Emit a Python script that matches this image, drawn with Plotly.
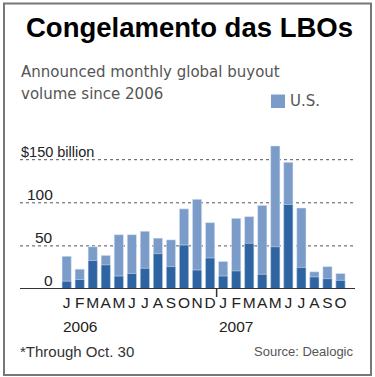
import plotly.graph_objects as go

# ---- data ----
periods = ["Jan 2006", "Feb 2006", "Mar 2006", "Apr 2006", "May 2006", "Jun 2006",
           "Jul 2006", "Aug 2006", "Sep 2006", "Oct 2006", "Nov 2006", "Dec 2006",
           "Jan 2007", "Feb 2007", "Mar 2007", "Apr 2007", "May 2007", "Jun 2007",
           "Jul 2007", "Aug 2007", "Sep 2007", "Oct 2007"]
month_letters = ["J", "F", "M", "A", "M", "J", "J", "A", "S", "O", "N", "D",
                 "J", "F", "M", "A", "M", "J", "J", "A", "S", "O"]
global_total = [38, 23, 49, 39, 63, 63, 67, 59, 57, 93, 104, 77,
                32, 82, 84, 97, 166, 147, 94, 20, 26, 18]
us_volume = [9, 11, 33, 28, 15, 18, 24, 41, 26, 51, 22, 36,
             15, 21, 53, 17, 49, 98, 25, 14, 12, 10]
grid_values = [50, 100, 150]
grid_labels = ["50", "100", "$150 billion"]
year_labels = ["2006", "2007"]
year_starts = ["Jan 2006", "Jan 2007"]

LIGHT = "#7b9cc8"
DARK = "#2e64a2"
SANS = "Liberation Sans, Arial, sans-serif"

W, H = 375, 377
ML, MR, MT, MB = 20, 22, 130, 88
PW = W - ML - MR
PH = H - MT - MB


def px(xp):
    return (xp - ML) / PW


def py(yp):
    return (H - MB - yp) / PH


fig = go.Figure()
fig.add_trace(go.Bar(x=periods, y=global_total, marker_color=LIGHT, width=0.71,
                     name="Global", showlegend=False, hoverinfo="x+y"))
fig.add_trace(go.Bar(x=periods, y=us_volume, marker_color=DARK, width=0.71,
                     name="U.S.", showlegend=False, hoverinfo="x+y"))

annotations = []
# title
annotations.append(dict(text="<b>Congelamento das LBOs</b>", xref="paper", yref="paper",
                        x=px(189), y=py(28), xanchor="center", yanchor="middle",
                        showarrow=False,
                        font=dict(family=SANS, size=27.5, color="#000")))
# subtitle
annotations.append(dict(text="Announced monthly global buyout", xref="paper", yref="paper",
                        x=px(19), y=py(71.5), xanchor="left", yanchor="middle", showarrow=False,
                        font=dict(family="DejaVu Sans, sans-serif", size=15, color="#555")))
annotations.append(dict(text="volume since 2006", xref="paper", yref="paper",
                        x=px(19), y=py(93.5), xanchor="left", yanchor="middle", showarrow=False,
                        font=dict(family="DejaVu Sans, sans-serif", size=15, color="#555")))
# legend text
annotations.append(dict(text="U.S.", xref="paper", yref="paper",
                        x=px(288), y=py(101.5), xanchor="left", yanchor="middle", showarrow=False,
                        font=dict(family="DejaVu Sans, sans-serif", size=15, color="#555")))
# y labels
for v, lab in zip(grid_values, grid_labels):
    if lab.startswith("$"):
        annotations.append(dict(text=lab, xref="paper", yref="y", x=px(19), y=v,
                                xanchor="left", yanchor="bottom", yshift=-2, showarrow=False,
                                font=dict(family=SANS, size=14.5, color="#222")))
    else:
        annotations.append(dict(text=lab, xref="paper", yref="y", x=px(55), y=v,
                                xanchor="right", yanchor="bottom", yshift=-2, showarrow=False,
                                font=dict(family=SANS, size=15.5, color="#222")))
annotations.append(dict(text="0", xref="paper", yref="y", x=px(55), y=0,
                        xanchor="right", yanchor="bottom", yshift=-2, showarrow=False,
                        font=dict(family=SANS, size=15.5, color="#222")))
# years
for yl, ys in zip(year_labels, year_starts):
    annotations.append(dict(text=yl, xref="x", yref="paper", x=ys, y=py(326),
                            xanchor="left", yanchor="middle", xshift=-6, showarrow=False,
                            font=dict(family=SANS, size=15.5, color="#222")))
# footnote and source
annotations.append(dict(text="*Through Oct. 30", xref="paper", yref="paper",
                        x=px(18), y=py(351), xanchor="left", yanchor="middle", showarrow=False,
                        font=dict(family=SANS, size=15, color="#333")))
annotations.append(dict(text="Source: Dealogic", xref="paper", yref="paper",
                        x=px(355), y=py(351), xanchor="right", yanchor="middle", showarrow=False,
                        font=dict(family=SANS, size=13, color="#555")))

shapes = []
# gridlines
for v in grid_values:
    shapes.append(dict(type="line", xref="paper", yref="y", x0=0, x1=1, y0=v, y1=v,
                       line=dict(color="#555", width=1, dash="dot"), layer="below"))
# baseline
shapes.append(dict(type="line", xref="paper", yref="y", x0=0, x1=px(355), y0=0, y1=0,
                   line=dict(color="#333", width=2), layer="above"))
# year divider tick
shapes.append(dict(type="line", xref="x", yref="paper", x0=11.5, x1=11.5, y0=0, y1=py(297),
                   line=dict(color="#333", width=1.5)))
# legend swatch
shapes.append(dict(type="rect", xref="paper", yref="paper", x0=px(271), x1=px(285),
                   y0=py(108), y1=py(94.5), fillcolor=LIGHT, line=dict(width=0)))
# border
shapes.append(dict(type="rect", xref="paper", yref="paper", x0=px(4), x1=px(371),
                   y0=py(375), y1=py(3.5), line=dict(color="#777", width=2)))

fig.update_layout(
    width=W, height=H,
    margin=dict(l=ML, r=MR, t=MT, b=MB),
    paper_bgcolor="white", plot_bgcolor="white",
    barmode="overlay",
    showlegend=False,
    xaxis=dict(type="category", range=[-3.58, 21.96], tickmode="array",
               tickvals=periods, ticktext=month_letters, ticks="", showgrid=False,
               zeroline=False, showline=False, tickangle=0,
               tickfont=dict(family=SANS, size=15.5, color="#222"), ticklabelstandoff=2),
    yaxis=dict(range=[0, PH / 0.862], showgrid=False, zeroline=False, showticklabels=False,
               showline=False),
    annotations=annotations,
    shapes=shapes,
)

fig.write_html("out.html", config={"displayModeBar": False},
               post_script="document.body.style.margin='0';")
